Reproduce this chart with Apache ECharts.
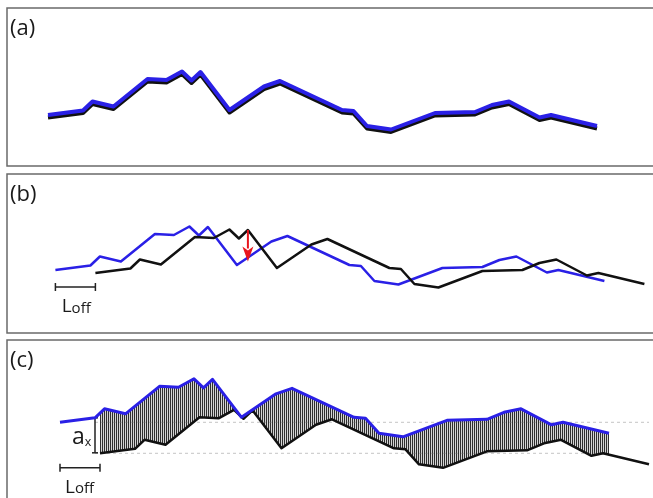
<!DOCTYPE html>
<html>
<head>
<meta charset="utf-8">
<script src="https://cdn.jsdelivr.net/npm/echarts@6/dist/echarts.min.js"></script>
<style>
  html, body { margin: 0; padding: 0; background: #fff; }
  #chart { width: 653px; height: 498px; }
</style>
</head>
<body>
<div id="chart"></div>
<script>
// Profile distances (horizontal units) of the reference trace and of the lagged trace
const dist       = [0, 35, 44.5, 65.5, 99.5, 118.5, 134, 143.5, 152.5, 181.5, 216, 232, 294, 305.5, 319, 343, 387, 427, 444, 461, 491.5, 503, 549];
const distLagged = [40, 75, 84.5, 105.5, 139.5, 158.5, 174, 183.5, 192.5, 221.5, 256, 272, 334, 345.5, 359, 383, 427, 467, 484, 501, 531.5, 543, 589];

// Elevations: blue trace (same in every panel) and the black trace of each panel
const elevBlue   = [20, 24.5, 33.5, 28.5, 56, 55, 63.5, 54.5, 63, 25, 48.5, 54, 25, 24, 9, 5.5, 22, 23, 30, 33.5, 17.5, 20, 9];
const elevBlackA = [17.5, 22, 31, 26, 53.5, 52.5, 61, 52, 60.5, 22.5, 46, 51.5, 22.5, 21.5, 6.5, 3, 19.5, 20.5, 27.5, 31, 15, 17.5, 6.5];
const elevBlackB = [17, 21.5, 30.5, 25.5, 53, 52, 60.5, 51.5, 60, 22, 45.5, 51, 22, 21, 6, 2.5, 19, 20, 27, 30.5, 14.5, 17, 6];
const elevBlackC = [-11, -6.5, 2.5, -2.5, 25, 24, 32.5, 23.5, 32, -6, 17.5, 23, -6, -7, -22, -25.5, -9, -8, -1, 2.5, -13.5, -11, -22];

// Annotation anchors, in the same data units
const lagBarB    = [[0, 3], [40, 3]];
const lagLabelB  = [6.3, -21];
const arrowB     = [[192.5, 60], [192.5, 28.5]];
const lagBarC    = [[0, -25.4], [40, -25.4]];
const lagLabelC  = [5, -49.4];
const offsetBarC = [[35, 24.5], [35, -10.5]];
const offsetLabelC = [12, -0.4];
const guideLevelsC = [20, -11];

const panelLabels = ['(a)', '(b)', '(c)'];

const BLUE = '#2a20e6';
const BLACK = '#111111';
const RED = '#e8141c';
const FONT = 'Open Sans';

const pairs = (xs, ys) => xs.map((x, i) => [x, ys[i]]);

// vertical hatch used between the two traces
const hatch = document.createElement('canvas');
hatch.width = 2; hatch.height = 4;
(function () {
  const c = hatch.getContext('2d');
  c.fillStyle = '#2e2e2e'; c.fillRect(0, 0, 1, 4);
  c.fillStyle = '#d4d4d4'; c.fillRect(1, 0, 1, 4);
})();

function lagRich(size, subSize) {
  return {
    m: { fontSize: size, fontFamily: FONT, fill: '#1a1a1a', verticalAlign: 'bottom' },
    s: { fontSize: subSize, fontFamily: FONT, fill: '#1a1a1a', verticalAlign: 'bottom' }
  };
}

function barWithCaps(p0, p1, capHalf, vertical) {
  const els = [{ type: 'line', shape: { x1: p0[0], y1: p0[1], x2: p1[0], y2: p1[1] },
                 style: { stroke: '#222', lineWidth: 1.5 } }];
  [p0, p1].forEach(p => {
    els.push({ type: 'line',
      shape: vertical ? { x1: p[0] - capHalf, y1: p[1], x2: p[0] + capHalf, y2: p[1] }
                      : { x1: p[0], y1: p[1] - capHalf, x2: p[0], y2: p[1] + capHalf },
      style: { stroke: '#222', lineWidth: 1.5 } });
  });
  return els;
}

function renderAnnotB(params, api) {
  const b0 = api.coord(lagBarB[0]), b1 = api.coord(lagBarB[1]);
  const a0 = api.coord(arrowB[0]), a1 = api.coord(arrowB[1]);
  const t = api.coord(lagLabelB);
  const head = 15, half = 5.5;
  return { type: 'group', children: [
    ...barWithCaps(b0, b1, 4, false),
    { type: 'line', shape: { x1: a0[0], y1: a0[1], x2: a1[0], y2: a1[1] - head + 2 },
      style: { stroke: RED, lineWidth: 2 } },
    { type: 'polygon', shape: { points: [[a1[0], a1[1]], [a1[0] - half, a1[1] - head], [a1[0], a1[1] - head + 4], [a1[0] + half, a1[1] - head]] },
      style: { fill: RED } },
    { type: 'text', x: t[0], y: t[1] + 5,
      style: { text: '{m|L}{s|off}', rich: lagRich(19, 15), verticalAlign: 'bottom', align: 'left' } }
  ] };
}

function renderHatchC(params, api) {
  const upper = pairs(dist, elevBlue).map(p => api.coord(p));
  const lower = pairs(distLagged, elevBlackC).map(p => api.coord(p));
  const pts = upper.concat(lower.slice().reverse());
  const x0 = api.coord([distLagged[0], 0])[0];
  const x1 = api.coord([dist[dist.length - 1], 0])[0];
  return { type: 'polygon', shape: { points: pts },
    clipPath: { type: 'rect', shape: { x: x0, y: 0, width: x1 - x0, height: 2000 } },
    style: { fill: { type: 'pattern', image: hatch, repeat: 'repeat' }, stroke: null } };
}

function renderAnnotC(params, api) {
  const b0 = api.coord(lagBarC[0]), b1 = api.coord(lagBarC[1]);
  const o0 = api.coord(offsetBarC[0]), o1 = api.coord(offsetBarC[1]);
  const t = api.coord(lagLabelC);
  const ta = api.coord(offsetLabelC);
  const guides = guideLevelsC.map((lv, i) => {
    const g0 = api.coord([offsetBarC[0][0], lv]);
    const g1 = api.coord([i === 0 ? distLagged[distLagged.length - 1] : dist[dist.length - 1], lv]);
    return { type: 'line', shape: { x1: g0[0], y1: g0[1], x2: g1[0], y2: g1[1] },
      style: { stroke: 'rgba(120,120,120,0.55)', lineWidth: 0.8, lineDash: [3, 3] } };
  });
  return { type: 'group', children: [
    ...guides,
    ...barWithCaps(b0, b1, 4, false),
    ...barWithCaps(o0, o1, 3, true),
    { type: 'text', x: t[0], y: t[1] + 5,
      style: { text: '{m|L}{s|off}', rich: lagRich(19, 15), verticalAlign: 'bottom', align: 'left' } },
    { type: 'text', x: ta[0], y: ta[1] + 6,
      style: { text: '{m|a}{s|x}', rich: lagRich(23, 12.5), verticalAlign: 'bottom', align: 'left' } }
  ] };
}

// panel frames; they run past the right (and, for the last panel, bottom) edge of the canvas
const frame = { show: true, borderColor: '#6a6a6a', borderWidth: 1.5, backgroundColor: 'transparent', outerBoundsMode: 'none' };

const option = {
  animation: false,
  backgroundColor: '#ffffff',
  title: panelLabels.map((txt, i) => ({
    text: txt, left: 10, top: [18, 184, 350][i], padding: 0,
    textStyle: { fontFamily: FONT, fontSize: 22, fontWeight: 'normal', color: '#1a1a1a' }
  })),
  grid: [
    Object.assign({ left: 7, top: 8, width: 700, height: 158 }, frame),
    Object.assign({ left: 7, top: 174, width: 700, height: 159 }, frame),
    Object.assign({ left: 7, top: 340, width: 700, height: 200 }, frame)
  ],
  xAxis: [
    { type: 'value', gridIndex: 0, min: -41, max: 659, show: false },
    { type: 'value', gridIndex: 1, min: -48.4, max: 651.6, show: false },
    { type: 'value', gridIndex: 2, min: -53, max: 647, show: false }
  ],
  yAxis: [
    { type: 'value', gridIndex: 0, min: -31, max: 127, show: false },
    { type: 'value', gridIndex: 1, min: -43, max: 116, show: false },
    { type: 'value', gridIndex: 2, min: -97.7, max: 102.3, show: false }
  ],
  series: [
    // (a) both traces nearly coincide
    { type: 'line', xAxisIndex: 0, yAxisIndex: 0, data: pairs(dist, elevBlackA), showSymbol: false, z: 2,
      lineStyle: { color: BLACK, width: 4, join: 'round' } },
    { type: 'line', xAxisIndex: 0, yAxisIndex: 0, data: pairs(dist, elevBlue), showSymbol: false, z: 3,
      lineStyle: { color: BLUE, width: 4, join: 'round' } },
    // (b) black trace lagged along distance
    { type: 'line', xAxisIndex: 1, yAxisIndex: 1, data: pairs(dist, elevBlue), showSymbol: false, z: 2,
      lineStyle: { color: BLUE, width: 2.5, join: 'round' } },
    { type: 'line', xAxisIndex: 1, yAxisIndex: 1, data: pairs(distLagged, elevBlackB), showSymbol: false, z: 3,
      lineStyle: { color: BLACK, width: 2.5, join: 'round' } },
    { type: 'custom', xAxisIndex: 1, yAxisIndex: 1, data: [[0, 0]], renderItem: renderAnnotB, z: 4, silent: true },
    // (c) lagged and offset trace with the gap hatched
    { type: 'custom', xAxisIndex: 2, yAxisIndex: 2, data: [[0, 0]], renderItem: renderHatchC, z: 1, silent: true },
    { type: 'custom', xAxisIndex: 2, yAxisIndex: 2, data: [[0, 0]], renderItem: renderAnnotC, z: 2, silent: true },
    { type: 'line', xAxisIndex: 2, yAxisIndex: 2, data: pairs(distLagged, elevBlackC), showSymbol: false, z: 3,
      lineStyle: { color: BLACK, width: 2.5, join: 'round' } },
    { type: 'line', xAxisIndex: 2, yAxisIndex: 2, data: pairs(dist, elevBlue), showSymbol: false, z: 4,
      lineStyle: { color: BLUE, width: 3, join: 'round' } }
  ]
};

const chart = echarts.init(document.getElementById('chart'), null, { renderer: 'canvas' });
chart.setOption(option);
</script>
</body>
</html>
